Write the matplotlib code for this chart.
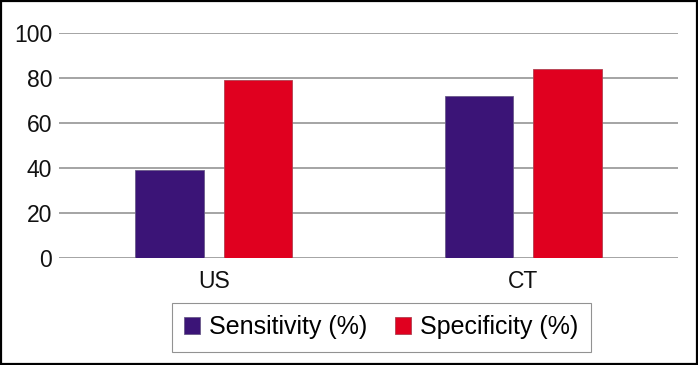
import matplotlib.pyplot as plt
import numpy as np

# Data
categories = ['US', 'CT']
sensitivity = [39, 72]
specificity = [79, 84]
series_labels = ['Sensitivity (%)', 'Specificity (%)']
y_ticks = [0, 20, 40, 60, 80, 100]

PURPLE = '#3b1477'
RED = '#e0001f'

plt.rcParams['font.family'] = ['Liberation Sans', 'DejaVu Sans']

fig = plt.figure(figsize=(6.98, 3.65), dpi=100)
ax = fig.add_axes([0.0845, 0.294, 0.8868, 0.6146])

x = np.arange(len(categories))
width = 0.222
offset = 0.143

ax.bar(x - offset, sensitivity, width, color=PURPLE, edgecolor='#6a5a8a',
       linewidth=0.6, label=series_labels[0], zorder=3)
ax.bar(x + offset, specificity, width, color=RED, edgecolor='#b04050',
       linewidth=0.6, label=series_labels[1], zorder=3)

ax.set_xlim(-0.5, 1.5)
ax.set_ylim(0, 100)
ax.set_yticks(y_ticks)
ax.set_xticks(x)
ax.set_xticklabels(categories)
ax.tick_params(axis='both', length=0, labelsize=16.5, colors='#111111')
ax.tick_params(axis='y', pad=5)
ax.tick_params(axis='x', pad=9)
ax.yaxis.grid(True, color='#959595', linewidth=1.2, zorder=0)
ax.set_axisbelow(True)
for s in ax.spines.values():
    s.set_visible(False)

leg = fig.legend(loc='center', bbox_to_anchor=(0.546, 0.104), ncol=2,
                 fontsize=18, frameon=True, fancybox=False,
                 handlelength=0.65, handleheight=0.65, handletextpad=0.35,
                 columnspacing=1.1, borderpad=0.5)
leg.get_frame().set_edgecolor('#777777')
leg.get_frame().set_linewidth(0.8)

# outer border
fig.patches.append(plt.Rectangle((0.002, 0.003), 0.996, 0.994, transform=fig.transFigure,
                                 fill=False, edgecolor='black', linewidth=1.6))

fig.savefig('out.png', dpi=100)
